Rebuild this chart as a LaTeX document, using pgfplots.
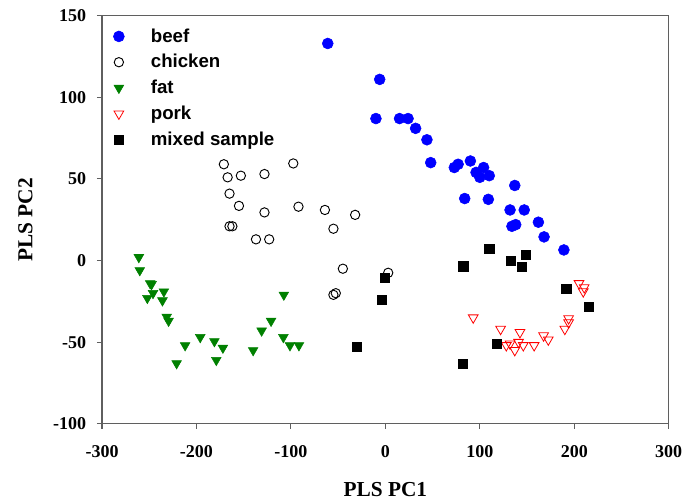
\documentclass[border=0pt]{standalone}
\usepackage{fontspec}
\setmainfont{Liberation Serif}
\setsansfont{Liberation Sans}
\usepackage{pgfplots}
\pgfplotsset{compat=1.18}

\definecolor{framegray}{RGB}{95,95,95}
\definecolor{beefblue}{RGB}{0,0,255}
\definecolor{fatgreen}{RGB}{0,128,0}
\definecolor{porkred}{RGB}{255,0,0}

\begin{document}
\begin{tikzpicture}
% page = 685x503 px at 0.75pt/px
\useasboundingbox (-76.5pt,-59.5pt) rectangle (437.2pt,317.8pt);
\begin{axis}[
    scale only axis,
    width=425pt, height=306pt,
    xmin=-300, xmax=300,
    ymin=-100, ymax=150,
    xtick={-300,-200,...,300},
    ytick={-100,-50,...,150},
    minor tick num=0,
    tick align=outside,
    xtick pos=bottom, ytick pos=left,
    major tick length=3.8pt,
    axis line style={framegray, line width=0.8pt},
    every tick/.style={framegray, line width=0.8pt},
    /pgf/number format/assume math mode=true,
    tick label style={font=\fontsize{13.5}{16}\selectfont\bfseries},
    xticklabel style={yshift=-9.3pt},
    yticklabel style={xshift=-4.5pt},
    xlabel={PLS PC1}, ylabel={PLS PC2},
    label style={font=\fontsize{16}{19}\selectfont\bfseries},
    xlabel style={at={(axis description cs:0.5,0)}, anchor=base, yshift=-54.2pt},
    ylabel style={at={([xshift=-57.5pt]axis description cs:0,0.5)}, anchor=center},
    legend style={draw=none, fill=none, at={(0,1)}, anchor=north west,
        xshift=-1.55pt, yshift=-5.5pt,
        font=\fontsize{14}{17}\selectfont\sffamily\bfseries,
        row sep=3.7pt},
    legend cell align=left,
    legend image code/.code={%
        \pgfpathmoveto{\pgfpoint{0pt}{0pt}}%
        \pgfpathmoveto{\pgfpoint{33pt}{0pt}}%
        \pgfusepath{discard}%
        \draw[#1, only marks] plot coordinates {(11pt,0pt)};},
]
\addplot[only marks, mark=*, mark size=4.1pt, draw=beefblue, fill=beefblue] coordinates {
  (-61,133) (-6,111) (-10,87) (15,87) (24,87) (32,81) (44,74) (48,60)
  (73,57) (77,59) (90,61) (96,54) (104,57) (100,51) (110,52) (137,46)
  (84,38) (109,37.5) (132,31) (147,31) (162,23.5) (134,21) (138,22)
  (168,14.5) (189,6.5)
};
\addlegendentry{beef}
\addplot[only marks, mark=o, mark size=3.5pt, draw=black, line width=0.7pt] coordinates {
  (-171,59) (-97.5,59.5) (-167,51) (-153,52) (-128,53) (-165,41) (-155,33.5)
  (-128,29.5) (-92,33) (-64,31) (-32,28) (-165,21) (-162,21) (-137,13)
  (-123,13) (-55,19.5) (-45,-5) (-55,-21) (-52.5,-20) (3,-7.5)
};
\addlegendentry{chicken}
\addplot[only marks, mark=triangle*, mark size=4.2pt, mark options={rotate=180},
    draw=fatgreen, fill=fatgreen] coordinates {
  (-261,2) (-260,-6) (-249,-14) (-247.5,-14.5) (-246,-20) (-234.5,-19)
  (-252,-23) (-236,-24.5) (-231.5,-34.5) (-229.5,-37) (-212,-52) (-221,-63)
  (-196,-47) (-181,-49.5) (-172,-53.5) (-179,-61) (-140,-55) (-131,-43)
  (-121,-37) (-107.5,-21) (-108,-47) (-101,-52) (-91.5,-52)
};
\addlegendentry{fat}
\addplot[only marks, mark=triangle, mark size=4.2pt, mark options={rotate=180},
    draw=porkred, line width=0.6pt] coordinates {
  (93,-35) (122,-42) (142.5,-44) (128,-52) (132,-51) (137,-55) (141,-50)
  (146,-52) (157.5,-52) (167.5,-46) (172.5,-48.5) (190,-42) (194,-35.5)
  (194,-38) (205,-14) (210.5,-16.5) (209.5,-19)
};
\addlegendentry{pork}
\addplot[only marks, mark=square*, mark size=3.4pt, draw=black, fill=black] coordinates {
  (110,7.5) (149,3.7) (133,0) (82.5,-3.5) (144,-3.7) (-0.7,-10.4) (-4.3,-24)
  (191.5,-17) (215,-28.4) (118,-51) (82,-63) (-30.5,-53)
};
\addlegendentry{mixed sample}
\end{axis}
\end{tikzpicture}
\end{document}
